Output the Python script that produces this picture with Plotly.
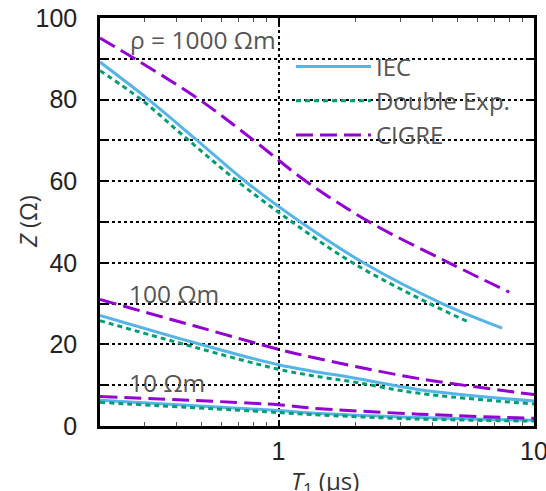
import math
import plotly.graph_objects as go

# ---- data ----
t_1000_iec = [0.2, 0.31, 0.48, 0.74, 1.22, 2.15, 4.37, 7.5]
z_1000_iec = [89.2, 80, 70, 60, 50, 40, 30, 24.0]
t_1000_de = [0.2, 0.29, 0.445, 0.69, 1.13, 1.95, 3.9, 5.5]
z_1000_de = [87.1, 80, 70, 60, 50, 40, 30, 25.6]
t_1000_cigre = [0.2, 0.274, 0.49, 0.80, 1.28, 2.27, 4.65, 8.0]
z_1000_cigre = [95.1, 90, 80, 70, 60, 50, 40, 32.8]

t_100 = [0.2, 0.47, 1.0, 1.34, 2.0, 3.56, 10.0]
z_100_iec = [27.1, 20.4, 15.0, 13.5, 11.7, 8.9, 6.1]
z_100_de = [25.8, 19.3, 13.9, 12.4, 10.7, 8.0, 5.4]
z_100_cigre = [31.0, 24.5, 18.8, 16.9, 14.6, 11.6, 7.7]

t_10 = [0.2, 1.0, 1.34, 3.56, 10.0]
z_10_iec = [6.3, 3.8, 3.2, 2.1, 1.4]
z_10_de = [5.8, 3.3, 2.8, 1.7, 1.2]
z_10_cigre = [7.2, 5.2, 4.4, 2.9, 1.9]

labels = ["IEC", "Double Exp.", "CIGRE"]
colors = ["#56B4E9", "#009E73", "#9400D3"]
dashes = ["solid", "5px,4px", "17px,7px"]

x_ticks = [1, 10]
y_ticks = [0, 20, 40, 60, 80, 100]

rho_labels = ["ρ = 1000 Ωm", "100 Ωm", "10 Ωm"]
rho_pos = [(0.258, 94.7), (0.255, 32.5), (0.255, 10.7)]

x_title = "<i>T</i><sub>1</sub> (μs)"
y_title = "<i>Z</i> (Ω)"

groups = [
    [(t_1000_iec, z_1000_iec), (t_1000_de, z_1000_de), (t_1000_cigre, z_1000_cigre)],
    [(t_100, z_100_iec), (t_100, z_100_de), (t_100, z_100_cigre)],
    [(t_10, z_10_iec), (t_10, z_10_de), (t_10, z_10_cigre)],
]

fig = go.Figure()
for gi, grp in enumerate(groups):
    for si, (xs, ys) in enumerate(grp):
        fig.add_trace(go.Scatter(
            x=xs, y=ys, mode="lines", name=labels[si],
            legendgroup=labels[si], showlegend=(gi == 0),
            line=dict(color=colors[si], width=3, dash=dashes[si], shape="spline", smoothing=1.0),
        ))

for txt, (xx, yy) in zip(rho_labels, rho_pos):
    fig.add_annotation(x=math.log10(xx), y=yy, xref="x", yref="y", text=txt, showarrow=False,
                       xanchor="left", yanchor="middle",
                       font=dict(family="Open Sans", size=24.5, color="#555555"))

# axis titles
fig.add_annotation(x=0.518, y=-0.138, xref="paper", yref="paper", text=x_title, showarrow=False,
                   xanchor="center", yanchor="middle",
                   font=dict(family="Open Sans", size=24, color="#333333"))
fig.add_annotation(x=-0.168, y=0.5, xref="paper", yref="paper", text=y_title, showarrow=False,
                   xanchor="center", yanchor="middle", textangle=-90,
                   font=dict(family="Open Sans", size=24, color="#333333"))

axis_common = dict(
    showline=True, linecolor="black", linewidth=2.5, mirror="ticks",
    ticks="inside", tickcolor="black", tickwidth=2, ticklen=6,
    showgrid=True, gridcolor="black", gridwidth=1.5, griddash="dot",
    zeroline=False, automargin=False, ticklabeloverflow="allow",
    tickfont=dict(family="Liberation Sans", size=25, color="#222222"),
)

fig.update_xaxes(
    type="log", range=[-0.69897, 1], tickvals=x_ticks, ticktext=[str(v) for v in x_ticks],
    minor=dict(ticks="inside", ticklen=4, tickcolor="#555555", tickwidth=1, dtick="D1", showgrid=False),
    ticklabelstandoff=1,
    **axis_common,
)
fig.update_yaxes(
    range=[0, 100], tickvals=y_ticks,
    minor=dict(dtick=10, ticks="inside", ticklen=6, tickcolor="black", tickwidth=2,
               showgrid=True, gridcolor="black", gridwidth=1.5, griddash="dot"),
    ticklabelstandoff=15,
    **axis_common,
)

fig.update_layout(
    width=546, height=491,
    margin=dict(l=100, r=12, t=18, b=65),
    paper_bgcolor="white", plot_bgcolor="white",
    legend=dict(x=0.44, y=0.935, xanchor="left", yanchor="top", bgcolor="rgba(0,0,0,0)",
                font=dict(family="Open Sans", size=24, color="#555555"),
                itemwidth=75, tracegroupgap=0),
)

fig.write_html("out.html")
